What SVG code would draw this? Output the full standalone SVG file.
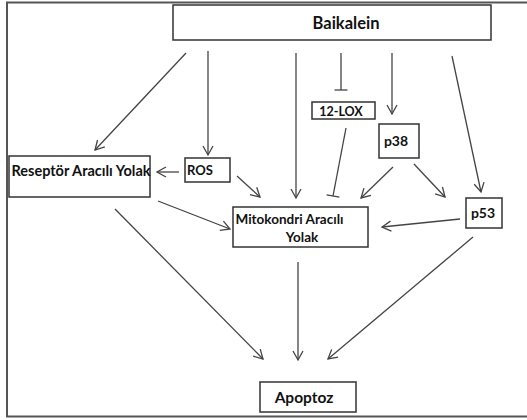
<svg xmlns="http://www.w3.org/2000/svg" width="527" height="420" viewBox="0 0 527 420">
<style>
.box{fill:#fff;stroke:#333;stroke-width:1.5}
.t{font-family:Lato,"Open Sans","Liberation Sans",sans-serif;font-weight:bold;fill:#111;text-anchor:middle}
.c line{stroke:#444;stroke-width:1.3;fill:none}
.a{marker-end:url(#arr)}
.b{marker-end:url(#bar)}
</style>
<defs>
<marker id="arr" viewBox="-10 -6 12 12" refX="0" refY="0" markerWidth="12" markerHeight="12" markerUnits="userSpaceOnUse" orient="auto">
<path d="M-9,-5 L0,0 L-9,5" fill="none" stroke="#444" stroke-width="1.3"/>
</marker>
<marker id="bar" viewBox="-2 -8 4 16" refX="0" refY="0" markerWidth="4" markerHeight="16" markerUnits="userSpaceOnUse" orient="auto">
<path d="M0,-6.5 L0,6.5" fill="none" stroke="#444" stroke-width="1.3"/>
</marker>
</defs>
<rect width="527" height="420" fill="#fff"/>
<path d="M530,2.5 L7,2.5 L7,416.5 L530,416.5" fill="none" stroke="#555" stroke-width="2"/>
<g class="c">
<line class="a" x1="186" y1="53" x2="95" y2="150"/>
<line class="a" x1="208" y1="51" x2="208" y2="155"/>
<line class="a" x1="296" y1="53" x2="296" y2="198"/>
<line class="b" x1="341" y1="53" x2="341" y2="90"/>
<line class="a" x1="392" y1="53" x2="392" y2="114"/>
<line class="a" x1="452" y1="56" x2="481" y2="192"/>
<line class="a" x1="179" y1="172" x2="157" y2="172"/>
<line class="a" x1="237" y1="176" x2="260" y2="197"/>
<line class="a" x1="158" y1="201" x2="230" y2="229"/>
<line class="a" x1="115" y1="209" x2="263" y2="359"/>
<line class="b" x1="346" y1="128" x2="333" y2="196"/>
<line class="a" x1="393" y1="167" x2="361" y2="198"/>
<line class="a" x1="414" y1="164" x2="445" y2="197"/>
<line class="a" x1="460" y1="219" x2="382" y2="227"/>
<line class="a" x1="473" y1="237" x2="328" y2="359"/>
<line class="a" x1="298" y1="262" x2="298" y2="360"/>
</g>
<g id="baikalein"><rect class="box" x="173" y="5" width="318" height="35"/><text class="t" x="346" y="29" font-size="16.5">Baikalein</text></g>
<g id="lox"><rect class="box" x="312" y="102" width="63" height="17"/><text class="t" x="341" y="115.5" font-size="12.5">12-LOX</text></g>
<g id="p38"><rect class="box" x="379" y="124" width="40" height="34"/><text class="t" x="396" y="146" font-size="14">p38</text></g>
<g id="p53"><rect class="box" x="466" y="198" width="36" height="30"/><text class="t" x="483" y="218" font-size="14">p53</text></g>
<g id="reseptor"><rect class="box" x="9" y="156" width="141" height="41"/><text class="t" x="81" y="176" font-size="14.5">Reseptör Aracılı Yolak</text></g>
<g id="ros"><rect class="box" x="185" y="158" width="45" height="24"/><text class="t" x="200" y="175" font-size="13">ROS</text></g>
<g id="mito"><rect class="box" x="233" y="207" width="135" height="40"/><text class="t" x="289.5" y="224" font-size="13.5">Mitokondri Aracılı</text><text class="t" x="302" y="242" font-size="13.5">Yolak</text></g>
<g id="apoptoz"><rect class="box" x="260" y="382" width="96" height="30"/><text class="t" x="304" y="403" font-size="15.5">Apoptoz</text></g>
</svg>
